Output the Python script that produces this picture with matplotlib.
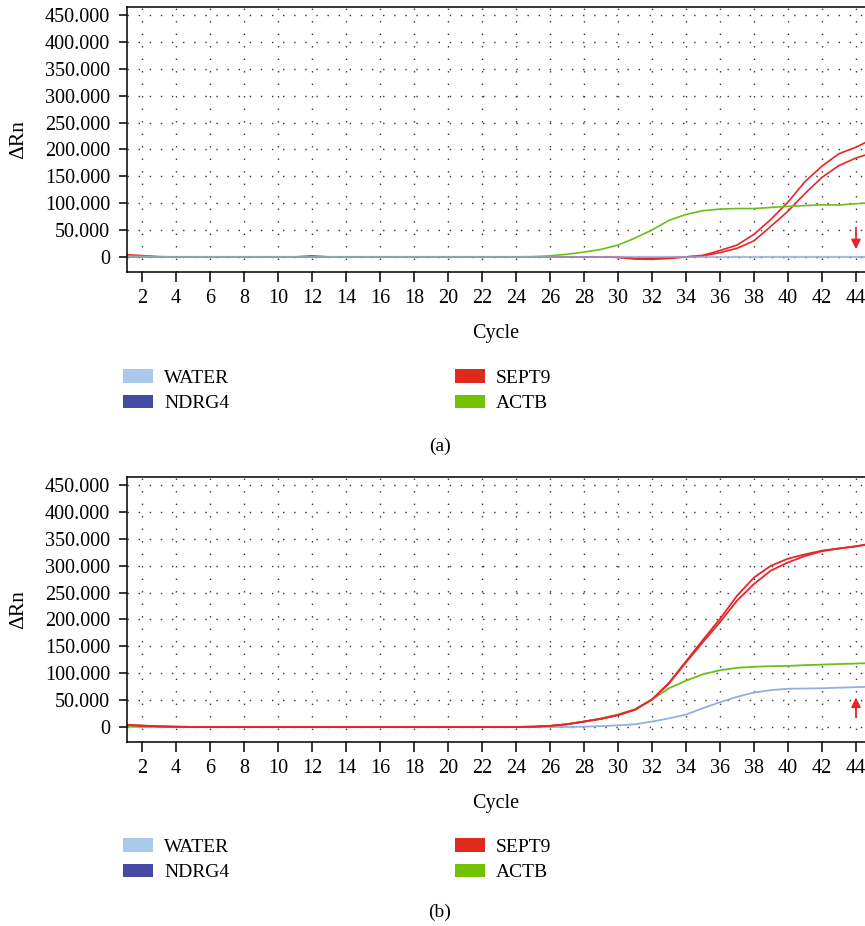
import numpy as np
import matplotlib
matplotlib.use("Agg")
import matplotlib.pyplot as plt
from matplotlib.patches import Patch
from matplotlib.ticker import FuncFormatter, MultipleLocator

plt.rcParams['font.family'] = ['Liberation Serif', 'DejaVu Serif']

# 数据: 循环数 1..45
cycles = list(range(1, 46))

# (a)
water_a = [1.5, 0.5] + [0] * 43
ndrg4_a = [0] * 45
sept9_a1 = [4, 2.5, 0.5, 0, 0, 0, 0, 0, 0, 0, 0, 2, 0, 0, 0, 0, 0, 0, 0, 0,
            0, 0, 0, 0, 0, 0, 0, 0, 0, -1, -4, -4.5, -3, 0, 3, 12, 22, 42, 70, 102,
            140, 169, 192, 204, 220]
sept9_a2 = [3, 1.5, 0, 0, 0, 0, 0, 0, 0, 0, 0, 0, 0, 0, 0, 0, 0, 0, 0, 0,
            0, 0, 0, 0, 0, 0, 0, 0, 0, -0.5, -2, -2.5, -1.5, 0, 2, 8, 16, 30, 57, 85,
            118, 148, 170, 184, 194]
actb_a = [0] * 24 + [0.5, 2, 5, 9, 14, 22, 35, 50, 68, 79, 86, 89, 90, 90, 92, 94,
                     95.5, 97, 96.5, 99, 101]

# (b)
ndrg4_b = [1] + [0] * 26 + [0.5, 1.5, 3, 5, 10, 16, 23, 35, 46, 56, 64, 68.5, 71,
                            71.5, 72, 73, 74, 75]
sept9_b1 = [4, 2.5, 1.2, 0.5] + [0] * 20 + [0.5, 2, 5, 10, 15, 22, 32, 51, 82, 122,
                                            162, 201, 244, 278, 300, 313, 321, 328, 332, 336, 342]
sept9_b2 = [4, 2.5, 1.2, 0.5] + [0] * 20 + [0.5, 2, 5, 10, 15, 22, 32, 51, 81, 120,
                                            158, 195, 235, 266, 291, 306, 318, 327, 332, 336, 341]
actb_b = [1, 0.5] + [0] * 22 + [0.5, 2, 5, 10, 16, 23, 33, 51, 72, 86, 98, 105.5,
                                110, 112, 113, 113.5, 115, 116, 117, 118, 119]

names = ["WATER", "NDRG4", "SEPT9", "ACTB"]
legend_colors = ["#aac8ea", "#4449a6", "#de2b1e", "#73c200"]
RED = "#e5262a"
GREEN = "#6cbf14"
LBLUE = "#a3bde8"


def fmt(v, pos):
    return "0" if abs(v) < 1e-9 else "%.3f" % v


def style_axes(ax):
    ax.set_xlim(1.12, 44.53)
    ax.set_ylim(-28, 465)
    ax.yaxis.set_major_locator(MultipleLocator(50))
    ax.yaxis.set_major_formatter(FuncFormatter(fmt))
    ax.set_xticks(range(2, 45, 2))
    ax.tick_params(axis='y', direction='out', length=6, width=1.1, pad=6, labelsize=14.5)
    ax.tick_params(axis='x', direction='out', length=7, width=1.1, pad=5, labelsize=14.5)
    for s in ["left", "bottom", "top"]:
        ax.spines[s].set_linewidth(1.1)
    ax.spines["right"].set_visible(False)
    ax.xaxis.grid(True, color="#333333", linestyle=(0, (1, 8)), linewidth=1.0)
    ax.yaxis.grid(True, color="#333333", linestyle=(0, (1, 7)), linewidth=1.0)
    ax.set_axisbelow(True)
    ax.set_xlabel("Cycle", fontsize=14.5, labelpad=12)
    ax.set_ylabel("ΔRn", fontsize=15.5)
    ax.yaxis.set_label_coords(-0.134, 0.5)


fig = plt.figure(figsize=(8.65, 9.26), dpi=100)

ax1 = fig.add_axes([0.1468, 0.7063, 0.8532, 0.2862])
ax1.plot(cycles, sept9_a1, color=RED, lw=1.2)
ax1.plot(cycles, sept9_a2, color=RED, lw=1.2)
ax1.plot(cycles, actb_a, color=GREEN, lw=1.2)
ax1.plot(cycles, ndrg4_a, color="#4449a6", lw=1.4, alpha=0.4)
ax1.plot(cycles, water_a, color=LBLUE, lw=1.6, alpha=0.6)
ax1.annotate("", xy=(44, 9), xytext=(44, 60),
             arrowprops=dict(arrowstyle="-|>", color=RED, lw=1.3, mutation_scale=14))
style_axes(ax1)

ax2 = fig.add_axes([0.1468, 0.1987, 0.8532, 0.2862])
ax2.plot(cycles, ndrg4_b, color="#93aee2", lw=1.3)
ax2.plot(cycles, actb_b, color=GREEN, lw=1.3)
ax2.plot(cycles, sept9_b1, color=RED, lw=1.3)
ax2.plot(cycles, sept9_b2, color=RED, lw=1.3)
ax2.annotate("", xy=(44, 60), xytext=(44, 13),
             arrowprops=dict(arrowstyle="-|>", color=RED, lw=1.3, mutation_scale=14))
style_axes(ax2)

handles = [Patch(facecolor=c, edgecolor="none") for c in legend_colors]
for y0 in (0.6015, 0.095):
    fig.legend(handles, names, ncol=2, loc="upper left", bbox_to_anchor=(0.1422, y0),
               frameon=False, fontsize=14, handlelength=1.55, handleheight=0.72,
               handletextpad=0.57, columnspacing=11.6, labelspacing=0.4,
               borderpad=0, borderaxespad=0)

fig.text(0.5087, 0.5184, "(a)", ha="center", va="center", fontsize=14)
fig.text(0.5087, 0.0151, "(b)", ha="center", va="center", fontsize=14)

plt.savefig("out.png", dpi=100)
